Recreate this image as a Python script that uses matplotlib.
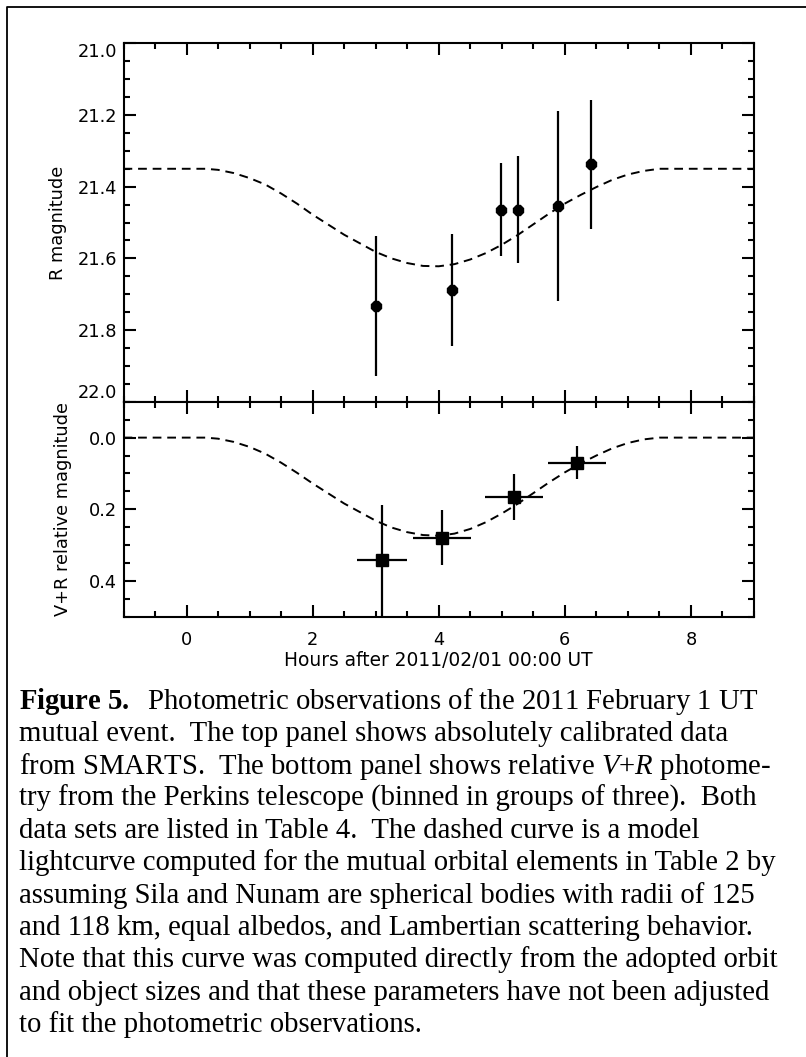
import matplotlib
matplotlib.use("Agg")
import matplotlib.pyplot as plt
from matplotlib.ticker import MultipleLocator, FormatStrFormatter
from matplotlib.lines import Line2D

# ---------------- data ----------------
# Top panel: SMARTS absolute R photometry
smarts_hours = [3.01, 4.21, 4.98, 5.25, 5.89, 6.41]
smarts_rmag = [21.733, 21.688, 21.464, 21.464, 21.454, 21.338]
smarts_err = [0.196, 0.155, 0.130, 0.149, 0.264, 0.181]

# Bottom panel: Perkins relative V+R photometry (binned)
perkins_hours = [3.10, 4.05, 5.19, 6.20]
perkins_mag = [0.342, 0.279, 0.166, 0.070]
perkins_xerr = [0.40, 0.46, 0.46, 0.46]
perkins_yerr = [0.155, 0.077, 0.064, 0.046]

# Model lightcurve (dashed)
model_hours = [-1.0, 0.0, 0.3, 0.5, 0.75, 1.0, 1.25, 1.5, 1.75, 2.0, 2.25, 2.5,
               2.75, 3.0, 3.25, 3.5, 3.75, 4.0, 4.25, 4.5, 4.75, 5.0, 5.25,
               5.5, 5.75, 6.0, 6.25, 6.5, 6.75, 7.0, 7.25, 7.5, 9.0]
model_r = [21.350, 21.350, 21.350, 21.353, 21.362, 21.376, 21.394, 21.419,
           21.447, 21.478, 21.506, 21.534, 21.558, 21.582, 21.600, 21.613,
           21.621, 21.622, 21.616, 21.603, 21.585, 21.562, 21.535, 21.505,
           21.475, 21.447, 21.423, 21.401, 21.381, 21.366, 21.356, 21.350,
           21.350]
model_vr = [0.0, 0.0, 0.0, 0.003, 0.012, 0.026, 0.045, 0.070, 0.098, 0.128,
            0.156, 0.184, 0.208, 0.232, 0.251, 0.264, 0.272, 0.274, 0.268,
            0.255, 0.236, 0.212, 0.185, 0.155, 0.125, 0.097, 0.072, 0.050,
            0.030, 0.015, 0.005, 0.0, 0.0]

top_yticks = [21.0, 21.2, 21.4, 21.6, 21.8, 22.0]
bot_yticks = [0.0, 0.2, 0.4]

caption_lines = [
    r"$\mathbf{Figure\ 5.}$  Photometric observations of the 2011 February 1 UT",
    "mutual event.  The top panel shows absolutely calibrated data",
    r"from SMARTS.  The bottom panel shows relative $V$+$R$ photome-",
    "try from the Perkins telescope (binned in groups of three).  Both",
    "data sets are listed in Table 4.  The dashed curve is a model",
    "lightcurve computed for the mutual orbital elements in Table 2 by",
    "assuming Sila and Nunam are spherical bodies with radii of 125",
    "and 118 km, equal albedos, and Lambertian scattering behavior.",
    "Note that this curve was computed directly from the adopted orbit",
    "and object sizes and that these parameters have not been adjusted",
    "to fit the photometric observations.",
]

# ---------------- style ----------------
plt.rcParams["font.family"] = ["DejaVu Sans"]
plt.rcParams["mathtext.fontset"] = "custom"
plt.rcParams["mathtext.rm"] = "Liberation Serif"
plt.rcParams["mathtext.it"] = "Liberation Serif:italic"
plt.rcParams["mathtext.bf"] = "Liberation Serif:bold"

W, H = 806, 1057
fig = plt.figure(figsize=(W / 100, H / 100), dpi=100)

left = 123.5 / W
right = 754.0 / W
ytop = 43.3
ymid = 401.8
ybot = 616.7
ax_top = fig.add_axes([left, 1 - ymid / H, right - left, (ymid - ytop) / H])
ax_bot = fig.add_axes([left, 1 - ybot / H, right - left, (ybot - ymid) / H])

FS = 12.8
for ax in (ax_top, ax_bot):
    for sp in ax.spines.values():
        sp.set_linewidth(1.5)
    ax.set_xlim(-1, 9)
    ax.xaxis.set_major_locator(MultipleLocator(2))
    ax.xaxis.set_minor_locator(MultipleLocator(0.5))
    ax.yaxis.set_minor_locator(MultipleLocator(0.05))
    ax.yaxis.set_major_formatter(FormatStrFormatter("%.1f"))
    ax.tick_params(which="both", direction="in", top=True, right=True,
                   width=1.5, labelsize=FS)
    ax.tick_params(which="major", length=8.8)
    ax.tick_params(which="minor", length=4.5)
    ax.tick_params(axis="y", pad=4.7)
    ax.tick_params(axis="x", pad=10.0)

# top panel
ax_top.set_yticks(top_yticks)
ax_top.set_ylim(22.0, 21.0)
ax_top.tick_params(labelbottom=False)
ax_top.plot(model_hours, model_r, color="k", lw=1.4, ls=(0, (4.5, 3.0)))
ax_top.errorbar(smarts_hours, smarts_rmag, yerr=smarts_err, fmt="8",
                color="k", ms=7.5, elinewidth=1.6, capsize=0)
ax_top.set_ylabel("R magnitude", fontsize=FS)
ax_top.yaxis.set_label_coords((67 - 123.5) / (754 - 123.5), 0.5)

# bottom panel
ax_bot.set_yticks(bot_yticks)
ax_bot.set_ylim(0.5, -0.1)
ax_bot.plot(model_hours, model_vr, color="k", lw=1.4, ls=(0, (4.5, 3.0)))
ax_bot.errorbar(perkins_hours, perkins_mag, xerr=perkins_xerr,
                yerr=perkins_yerr, fmt="s", color="k", ms=9,
                elinewidth=1.6, capsize=0)
ax_bot.set_ylabel("V+R relative magnitude", fontsize=FS)
ax_bot.yaxis.set_label_coords((72 - 123.5) / (754 - 123.5), 0.5)
ax_bot.set_xlabel("Hours after 2011/02/01 00:00 UT", fontsize=13.4)
ax_bot.xaxis.set_label_coords(0.5, -(651 - ybot) / (ybot - ymid))

# end tick labels shifted inward
ticks = ax_top.yaxis.get_major_ticks()
ticks[0].label1.set_verticalalignment("top")
ticks[-1].label1.set_verticalalignment("bottom")

# outer frame (left and top edges)
fx = 6.5 / W
fy = 1 - 6.5 / H
fig.add_artist(Line2D([fx, fx, 1.0], [0.0, fy, fy], transform=fig.transFigure,
                      color="k", lw=1.3))

# caption
y0 = 709.0
dy = 32.3
for i, line in enumerate(caption_lines):
    fig.text(19.0 / W, 1 - (y0 + i * dy) / H, line, ha="left", va="baseline",
             fontsize=20.7, family="Liberation Serif")

fig.savefig("out.png", dpi=100)
